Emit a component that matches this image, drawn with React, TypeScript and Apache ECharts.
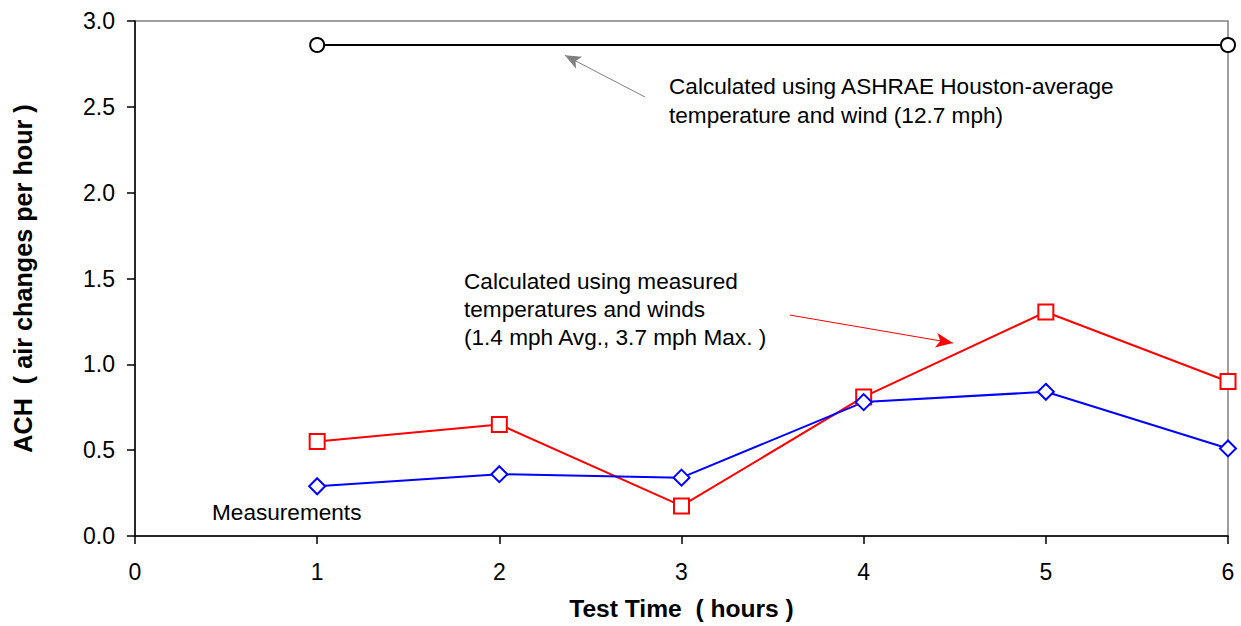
import React, { useEffect, useRef } from "react";
import * as echarts from "echarts";

const hours = [1, 2, 3, 4, 5, 6];
const measured = [0.29, 0.36, 0.34, 0.78, 0.84, 0.51];
const calcMeasured = [0.55, 0.65, 0.175, 0.81, 1.305, 0.9];
const ashraeX = [1, 6];
const ashraeY = [2.86, 2.86];
const yTicks = [0, 0.5, 1, 1.5, 2, 2.5, 3];

// annotation arrows in data coordinates [fromX, fromY, toX, toY]
const grayArrow = [2.8, 2.557, 2.36, 2.8];
const redArrow = [3.595, 1.287, 4.49, 1.124];

const annotAshrae = "Calculated using ASHRAE Houston-average\ntemperature and wind (12.7 mph)";
const annotMeasured = "Calculated using measured\ntemperatures and winds\n(1.4 mph Avg., 3.7 mph Max. )";
const annotMeas = "Measurements";

const FONT = "'Liberation Sans', Arial, Helvetica, sans-serif";
const AF = 22.6;

export default function App() {
  const ref = useRef<HTMLDivElement>(null);
  useEffect(() => {
    document.body.style.margin = "0";
    const chart = echarts.init(ref.current!, null, { renderer: "svg" });
    const option: any = {
      animation: false,
      backgroundColor: "#ffffff",
      textStyle: { fontFamily: FONT },
      grid: {
        left: 135,
        top: 21,
        right: 13,
        bottom: 90,
        show: true,
        borderColor: "#808080",
        borderWidth: 1.5,
        backgroundColor: "transparent",
      },
      xAxis: {
        type: "value",
        min: 0,
        max: 6,
        interval: 1,
        name: "Test Time  ( hours )",
        nameLocation: "middle",
        nameGap: 60,
        nameTextStyle: { fontSize: 24.6, fontWeight: "bold", color: "#000", fontFamily: FONT },
        axisLine: { show: true, onZero: false, lineStyle: { color: "#000", width: 1.5 } },
        axisTick: { show: true, inside: false, length: 8, lineStyle: { color: "#000", width: 1.5 } },
        axisLabel: { fontSize: 23, color: "#000", margin: 24, fontFamily: FONT },
        splitLine: { show: false },
      },
      yAxis: {
        type: "value",
        min: yTicks[0],
        max: yTicks[yTicks.length - 1],
        interval: 0.5,
        name: "ACH  ( air changes per hour )",
        nameLocation: "middle",
        nameGap: 100,
        nameTextStyle: { fontSize: 25.2, fontWeight: "bold", color: "#000", fontFamily: FONT },
        axisLine: { show: true, lineStyle: { color: "#000", width: 1.5 } },
        axisTick: { show: true, inside: false, length: 8, lineStyle: { color: "#000", width: 1.5 } },
        axisLabel: {
          fontSize: 23,
          color: "#000",
          margin: 20,
          fontFamily: FONT,
          formatter: (v: number) => v.toFixed(1),
        },
        splitLine: { show: false },
      },
      series: [
        {
          type: "line",
          data: ashraeX.map((x, i) => [x, ashraeY[i]]),
          symbol: "circle",
          symbolSize: 14,
          clip: false,
          lineStyle: { color: "#000", width: 2 },
          itemStyle: { color: "#fff", borderColor: "#000", borderWidth: 2 },
          markLine: {
            silent: true,
            symbol: ["none", "arrow"],
            symbolSize: [10, 16],
            label: { show: false },
            lineStyle: { color: "#808080", width: 1, type: "solid" },
            data: [
              [
                { coord: [grayArrow[0], grayArrow[1]] },
                { coord: [grayArrow[2], grayArrow[3]] },
              ],
            ],
          },
        },
        {
          type: "line",
          data: hours.map((x, i) => [x, calcMeasured[i]]),
          symbol: "rect",
          symbolSize: 15,
          clip: false,
          lineStyle: { color: "#ff0000", width: 2 },
          itemStyle: { color: "#fff", borderColor: "#ff0000", borderWidth: 2 },
          markLine: {
            silent: true,
            symbol: ["none", "arrow"],
            symbolSize: [11, 17],
            label: { show: false },
            lineStyle: { color: "#ff0000", width: 1, type: "solid" },
            data: [
              [
                { coord: [redArrow[0], redArrow[1]] },
                { coord: [redArrow[2], redArrow[3]] },
              ],
            ],
          },
        },
        {
          type: "line",
          data: hours.map((x, i) => [x, measured[i]]),
          symbol: "diamond",
          symbolSize: 16,
          clip: false,
          lineStyle: { color: "#0000ff", width: 2 },
          itemStyle: { color: "#fff", borderColor: "#0000ff", borderWidth: 2 },
        },
      ],
      graphic: [
        {
          type: "text",
          left: 669,
          top: 72,
          style: { text: annotAshrae, fontSize: AF, lineHeight: 29, fill: "#000", font: `${AF}px ${FONT}` },
        },
        {
          type: "text",
          left: 464,
          top: 267,
          style: { text: annotMeasured, fontSize: AF, lineHeight: 28, fill: "#000", font: `${AF}px ${FONT}` },
        },
        {
          type: "text",
          left: 212,
          top: 498,
          style: { text: annotMeas, fontSize: AF, lineHeight: 28, fill: "#000", font: `${AF}px ${FONT}` },
        },
      ],
    };
    chart.setOption(option);
    return () => chart.dispose();
  }, []);
  return <div ref={ref} style={{ width: 1241, height: 626 }} />;
}
